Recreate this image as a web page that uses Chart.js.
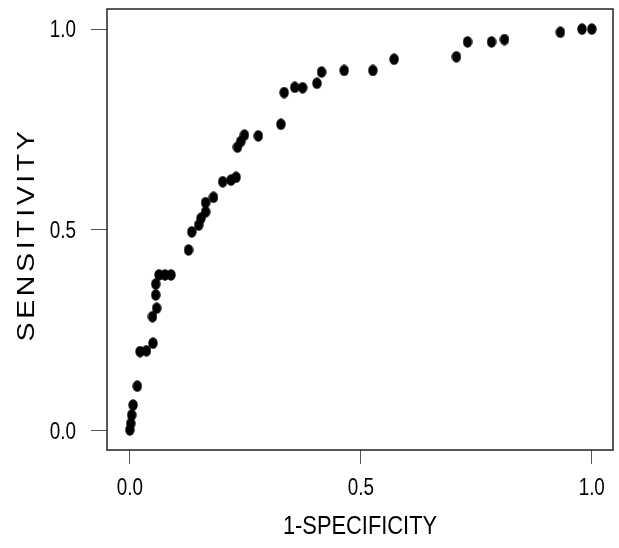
<!DOCTYPE html>
<html>
<head>
<meta charset="utf-8">
<script src="https://cdn.jsdelivr.net/npm/chart.js@4.4.0/dist/chart.umd.min.js"></script>
<style>
html, body { margin: 0; padding: 0; background: #fff; }
#wrap { width: 619px; height: 548px; position: relative; }
</style>
</head>
<body>
<div id="wrap"><canvas id="rocChart"></canvas></div>
<script>
// valeurs (1-specificite / sensibilite)
const fpr = [
    0.000, 0.002, 0.004, 0.007, 0.016, 0.022, 0.036, 0.050, 0.049, 0.058,
    0.056, 0.056, 0.063, 0.076, 0.089,
    0.127, 0.134, 0.149, 0.154, 0.164, 0.164, 0.181, 0.201, 0.219, 0.230,
    0.233, 0.240, 0.248, 0.278,
    0.327, 0.334, 0.357, 0.374, 0.405, 0.415, 0.464, 0.526, 0.572, 0.707,
    0.731, 0.783, 0.811, 0.932, 0.979, 1.000
];
const sensitivity = [
    0.002, 0.018, 0.039, 0.064, 0.111, 0.197, 0.199, 0.218, 0.284, 0.305,
    0.338, 0.365, 0.388, 0.388, 0.388,
    0.450, 0.495, 0.512, 0.529, 0.545, 0.568, 0.581, 0.620, 0.624, 0.631,
    0.706, 0.720, 0.736, 0.734,
    0.763, 0.842, 0.855, 0.854, 0.865, 0.893, 0.897, 0.897, 0.925, 0.931,
    0.968, 0.968, 0.974, 0.992, 1.000, 1.000
];
const tickValues = [0, 0.5, 1];
const xTitle = '1-SPECIFICITY';
const yTitle = 'SENSITIVITY';

const fontFam = '"Liberation Sans", Arial, sans-serif';

// point un peu ovale comme sur l'original
function makeDot(w, h) {
    const c = document.createElement('canvas');
    c.width = w;
    c.height = h;
    const g = c.getContext('2d');
    g.fillStyle = '#000';
    g.beginPath();
    g.ellipse(w / 2, h / 2, w / 2 - 0.3, h / 2 - 0.3, 0, 0, Math.PI * 2);
    g.fill();
    return c;
}

// texte etire comme l'image d'origine (sx/sy = echelle horizontale/verticale)
function stretchedText(ctx, txt, x, y, size, sx, sy, align, rot) {
    ctx.save();
    ctx.translate(x, y);
    if (rot) ctx.rotate(rot);
    ctx.scale(sx, sy);
    ctx.font = size + 'px ' + fontFam;
    ctx.fillStyle = '#000';
    ctx.textAlign = align;
    ctx.textBaseline = 'alphabetic';
    ctx.fillText(txt, 0, 0);
    ctx.restore();
}

// cadre, libelles des ticks et titres des axes
const boxPlugin = {
    id: 'box',
    afterDraw(chart) {
        const { ctx, chartArea: a } = chart;
        const xs = chart.scales.x, ys = chart.scales.y;
        ctx.save();
        ctx.strokeStyle = '#222';
        ctx.lineWidth = 1.5;
        ctx.strokeRect(a.left, a.top, a.right - a.left, a.bottom - a.top);
        ctx.restore();

        tickValues.forEach(v => {
            const lbl = v.toFixed(1);
            stretchedText(ctx, lbl, xs.getPixelForValue(v), 495, 23, 0.82, 1, 'center');
            stretchedText(ctx, lbl, 76, ys.getPixelForValue(v) + 8.3, 23, 0.82, 1, 'right');
        });

        stretchedText(ctx, xTitle, (a.left + a.right) / 2, 534, 26, 0.84, 1, 'center');

        ctx.save();
        ctx.letterSpacing = '3px';
        stretchedText(ctx, yTitle, 34, 234.5, 24, 1.19, 1, 'center', -Math.PI / 2);
        ctx.restore();
    }
};

const points = fpr.map((x, i) => ({ x: x, y: sensitivity[i] }));

const ctx = document.getElementById('rocChart').getContext('2d');
const rocChart = new Chart(ctx, {
    type: 'scatter',
    data: {
        datasets: [{
            data: points,
            pointStyle: makeDot(10, 12),
            pointRadius: 6,
            borderWidth: 0,
            backgroundColor: '#000'
        }]
    },
    options: {
        responsive: true,
        maintainAspectRatio: false,
        animation: false,
        layout: { padding: { top: 9, right: 3, left: 0, bottom: 0 } },
        plugins: {
            legend: { display: false },
            tooltip: { enabled: false }
        },
        scales: {
            x: {
                type: 'linear',
                min: -0.0495,
                max: 1.046,
                afterBuildTicks: s => { s.ticks = tickValues.map(v => ({ value: v })); },
                afterFit: s => { s.height = 98; s.paddingLeft = 0; s.paddingRight = 0; },
                grid: { drawOnChartArea: false, drawTicks: true, tickLength: 14, color: '#555', lineWidth: 1 },
                border: { display: false },
                ticks: { display: false },
                title: { display: false }
            },
            y: {
                type: 'linear',
                min: -0.048,
                max: 1.05,
                afterBuildTicks: s => { s.ticks = tickValues.map(v => ({ value: v })); },
                afterFit: s => { s.width = 107; s.paddingTop = 0; s.paddingBottom = 0; },
                grid: { drawOnChartArea: false, drawTicks: true, tickLength: 16, color: '#555', lineWidth: 1 },
                border: { display: false },
                ticks: { display: false },
                title: { display: false }
            }
        }
    },
    plugins: [boxPlugin]
});
</script>
</body>
</html>
